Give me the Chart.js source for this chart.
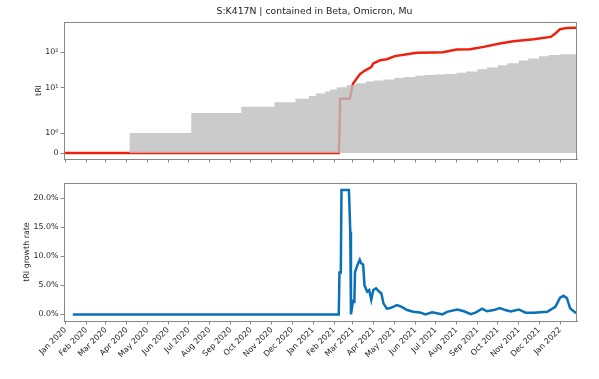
<!DOCTYPE html>
<html>
<head>
<meta charset="utf-8">
<script src="https://cdn.jsdelivr.net/npm/chart.js"></script>
<style>
  body { margin: 0; background: #fff; }
  canvas { position: absolute; left: 0; }
  #top { top: 0; }
  #bottom { top: 170px; }
</style>
</head>
<body>
<canvas id="top" width="599" height="170"></canvas>
<canvas id="bottom" width="599" height="209"></canvas>

<script>
  const titleText = 'S:K417N | contained in Beta, Omicron, Mu';

  // x axis range and month ticks
  const xStart = '2019-12-30';
  const xEnd = '2022-01-26';
  const monthTicks = ['2020-01-01', '2020-02-01', '2020-03-01', '2020-04-01', '2020-05-01', '2020-06-01',
    '2020-07-01', '2020-08-01', '2020-09-01', '2020-10-01', '2020-11-01', '2020-12-01',
    '2021-01-01', '2021-02-01', '2021-03-01', '2021-04-01', '2021-05-01', '2021-06-01',
    '2021-07-01', '2021-08-01', '2021-09-01', '2021-10-01', '2021-11-01', '2021-12-01', '2022-01-01'];
  const monthLabels = ['Jan 2020', 'Feb 2020', 'Mar 2020', 'Apr 2020', 'May 2020', 'Jun 2020',
    'Jul 2020', 'Aug 2020', 'Sep 2020', 'Oct 2020', 'Nov 2020', 'Dec 2020',
    'Jan 2021', 'Feb 2021', 'Mar 2021', 'Apr 2021', 'May 2021', 'Jun 2021',
    'Jul 2021', 'Aug 2021', 'Sep 2021', 'Oct 2021', 'Nov 2021', 'Dec 2021', 'Jan 2022'];

  // top panel: tRI (red) and background (grey, stepped)
  const triDates = ['2019-12-30', '2021-02-08', '2021-02-09', '2021-02-10', '2021-02-24', '2021-02-25',
    '2021-03-01', '2021-03-11', '2021-03-18', '2021-03-28', '2021-03-31', '2021-04-10', '2021-04-20',
    '2021-05-02', '2021-05-20', '2021-06-03', '2021-06-28', '2021-07-12', '2021-08-01', '2021-08-21',
    '2021-09-10', '2021-10-04', '2021-10-24', '2021-11-23', '2021-12-18', '2021-12-25', '2022-01-01',
    '2022-01-11', '2022-01-26'];
  const triValues = [0, 0, 1, 5, 5, 6,
    13, 24, 30, 38, 48, 59, 63,
    77, 87, 95, 97, 99, 117, 120,
    139, 173, 200, 227, 263, 327, 432,
    469, 470];

  const baseDates = ['2019-12-30', '2020-04-05', '2020-07-05', '2020-09-17', '2020-11-05', '2020-12-06',
    '2020-12-26', '2021-01-05', '2021-01-19', '2021-01-26', '2021-02-05', '2021-02-20', '2021-03-05',
    '2021-03-20', '2021-04-01', '2021-04-15', '2021-05-01', '2021-05-15', '2021-06-01', '2021-06-15',
    '2021-07-01', '2021-07-15', '2021-08-01', '2021-08-15', '2021-09-01', '2021-09-15', '2021-10-01',
    '2021-10-15', '2021-11-01', '2021-11-15', '2021-12-01', '2021-12-15', '2022-01-01', '2022-01-26'];
  const baseValues = [0, 1, 2, 3, 4, 5,
    6, 7, 8, 9, 10.5, 12, 13.5,
    15, 16, 17.3, 18.8, 20.3, 21.8, 22.8,
    23.7, 24.6, 26.5, 28.8, 33, 37, 43,
    49, 58, 66, 76, 83, 86, 86];

  const triTicks = [0, 1, 10, 100];
  const triTickLabels = ['0', '10\u2070', '10\u00b9', '10\u00b2'];

  // bottom panel: growth rate in percent
  const rateDates = ['2020-01-12', '2021-02-08', '2021-02-09', '2021-02-11', '2021-02-12', '2021-02-23',
    '2021-02-25', '2021-02-26', '2021-03-01', '2021-03-03', '2021-03-04', '2021-03-08', '2021-03-11',
    '2021-03-13', '2021-03-16', '2021-03-18', '2021-03-22', '2021-03-25', '2021-03-28', '2021-03-31',
    '2021-04-04', '2021-04-09', '2021-04-12', '2021-04-15', '2021-04-20', '2021-04-25', '2021-05-05',
    '2021-05-12', '2021-05-20', '2021-05-29', '2021-06-08', '2021-06-16', '2021-06-26', '2021-07-03',
    '2021-07-11', '2021-07-18', '2021-08-02', '2021-08-12', '2021-08-22', '2021-08-29', '2021-09-08',
    '2021-09-15', '2021-09-25', '2021-10-04', '2021-10-12', '2021-10-20', '2021-11-01', '2021-11-11',
    '2021-11-23', '2021-12-13', '2021-12-25', '2022-01-01', '2022-01-06', '2022-01-11', '2022-01-16',
    '2022-01-21', '2022-01-26'];
  const rateValues = [0, 0, 7.2, 7.2, 21.4, 21.4,
    14.2, 0, 2.3, 2.2, 7.3, 8.6, 9.4,
    8.8, 8.6, 5.0, 3.9, 4.2, 2.5, 4.2,
    4.5, 3.9, 3.6, 1.9, 1.0, 1.1, 1.6,
    1.3, 0.75, 0.45, 0.35, 0, 0.35, 0.2,
    0, 0.45, 0.85, 0.55, 0.05, 0.3, 1.0,
    0.55, 0.75, 1.1, 0.75, 0.5, 0.85, 0.3,
    0.3, 0.45, 1.3, 2.9, 3.2, 2.8, 1.0,
    0.55, 0.15];
  const rateTicks = [0, 5, 10, 15, 20];

  const ts = d => Date.parse(d + 'T00:00:00Z');
  const points = (dates, vals) => dates.map((d, i) => ({ x: ts(d), y: vals[i] }));

  Chart.defaults.font.family = 'DejaVu Sans';
  Chart.defaults.font.size = 7.9;
  Chart.defaults.color = '#222';

  // symmetric log scale (linthresh 2, like matplotlib symlog)
  const LINTHRESH = 2;
  const LINSCALE = 1 / (1 - 0.1);
  function symlog(v) {
    const a = Math.abs(v);
    if (a <= LINTHRESH) return v * LINSCALE;
    return Math.sign(v) * LINTHRESH * (LINSCALE + Math.log10(a / LINTHRESH));
  }
  function symexp(t) {
    const a = Math.abs(t);
    if (a <= LINTHRESH * LINSCALE) return t / LINSCALE;
    return Math.sign(t) * LINTHRESH * Math.pow(10, a / LINTHRESH - LINSCALE);
  }
  class SymlogScale extends Chart.LinearScale {
    buildTicks() {
      return triTicks.map(v => ({ value: v }));
    }
    getPixelForValue(v) {
      const lo = symlog(this.min), hi = symlog(this.max);
      return this.getPixelForDecimal((symlog(v) - lo) / (hi - lo));
    }
    getValueForPixel(p) {
      const lo = symlog(this.min), hi = symlog(this.max);
      return symexp(lo + this.getDecimalForPixel(p) * (hi - lo));
    }
  }
  SymlogScale.id = 'symlog';
  SymlogScale.defaults = Chart.LinearScale.defaults;
  Chart.register(SymlogScale);

  // box around plot area
  const frame = {
    id: 'frame',
    afterDatasetsDraw(chart) {
      const { ctx, chartArea: a } = chart;
      ctx.save();
      ctx.strokeStyle = '#888';
      ctx.lineWidth = 1;
      ctx.strokeRect(a.left + 0.5, a.top + 0.5, a.right - a.left - 1, a.bottom - a.top);
      ctx.restore();
    }
  };

  const figTitle = {
    id: 'figTitle',
    afterDraw(chart) {
      const ctx = chart.ctx;
      ctx.save();
      ctx.font = '9.3px "DejaVu Sans"';
      ctx.fillStyle = '#222';
      ctx.textAlign = 'center';
      ctx.textBaseline = 'middle';
      ctx.fillText(titleText, 314.5, 12);
      ctx.restore();
    }
  };

  const xAxis = (showLabels, height) => ({
    type: 'linear',
    min: ts(xStart),
    max: ts(xEnd),
    afterBuildTicks: s => { s.ticks = monthTicks.map(d => ({ value: ts(d) })); },
    afterFit: s => { s.height = height; },
    ticks: {
      display: showLabels,
      autoSkip: false,
      minRotation: 45,
      maxRotation: 45,
      padding: 1,
      callback: v => monthLabels[monthTicks.map(ts).indexOf(v)]
    },
    grid: { drawOnChartArea: false, drawTicks: true, tickLength: 3.5, color: '#888' },
    border: { color: '#888' }
  });

  new Chart(document.getElementById('top'), {
    type: 'line',
    data: {
      datasets: [
        {
          label: 'background',
          data: points(baseDates, baseValues),
          stepped: 'before',
          fill: 'origin',
          backgroundColor: 'rgba(190,190,190,0.8)',
          borderColor: 'transparent',
          borderWidth: 0,
          pointRadius: 0,
          order: 0
        },
        {
          label: 'tRI',
          data: points(triDates, triValues),
          borderColor: 'rgb(238,32,14)',
          borderWidth: 2.5,
          pointRadius: 0,
          fill: false,
          order: 1
        }
      ]
    },
    options: {
      responsive: false,
      animation: false,
      layout: { padding: { top: 22, left: 34, right: 22, bottom: 0 } },
      plugins: { legend: { display: false }, tooltip: { enabled: false } },
      scales: {
        x: xAxis(false, 11),
        y: {
          type: 'symlog',
          min: -0.3,
          max: 684,
          afterFit: s => { s.width = 30; },
          ticks: {
            padding: 2,
            callback: v => triTickLabels[triTicks.indexOf(v)]
          },
          grid: { drawOnChartArea: false, tickLength: 3.5, color: '#888' },
          border: { color: '#888' },
          title: { display: true, text: 'tRI', padding: 0 }
        }
      }
    },
    plugins: [frame, figTitle]
  });

  new Chart(document.getElementById('bottom'), {
    type: 'line',
    data: {
      datasets: [{
        label: 'tRI growth rate',
        data: points(rateDates, rateValues),
        borderColor: '#0a70b8',
        borderWidth: 2.5,
        pointRadius: 0,
        fill: false
      }]
    },
    options: {
      responsive: false,
      animation: false,
      layout: { padding: { top: 13, left: 22, right: 22, bottom: 0 } },
      plugins: { legend: { display: false }, tooltip: { enabled: false } },
      scales: {
        x: xAxis(true, 58),
        y: {
          type: 'linear',
          min: -1.13,
          max: 22.6,
          afterBuildTicks: s => { s.ticks = rateTicks.map(v => ({ value: v })); },
          afterFit: s => { s.width = 42; },
          ticks: {
            padding: 2,
            callback: v => v.toFixed(1) + '%'
          },
          grid: { drawOnChartArea: false, tickLength: 3.5, color: '#888' },
          border: { color: '#888' },
          title: { display: true, text: 'tRI growth rate', padding: 0 }
        }
      }
    },
    plugins: [frame]
  });
</script>
</body>
</html>
